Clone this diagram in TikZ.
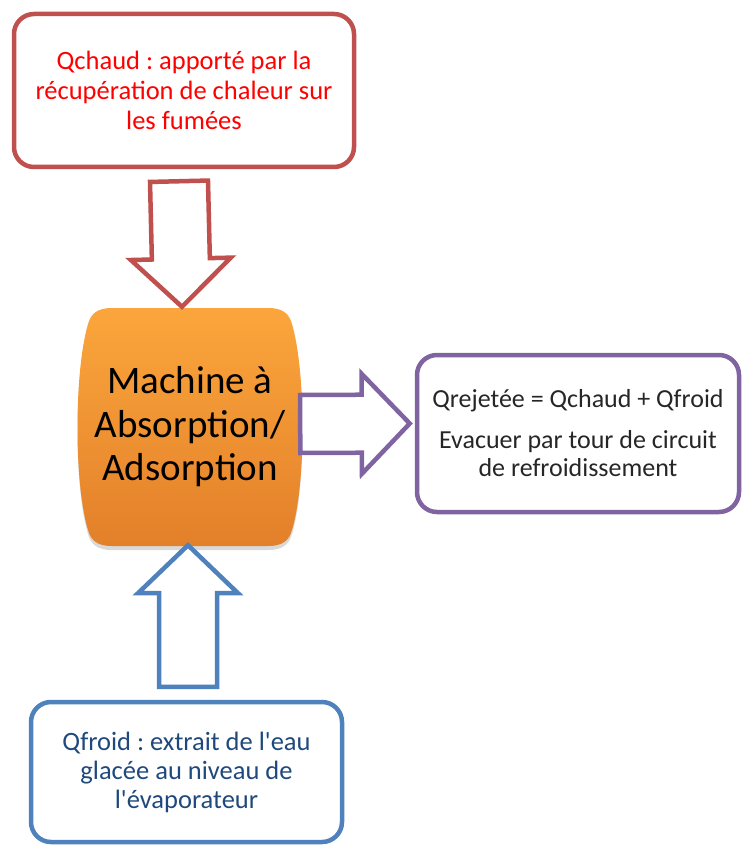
\documentclass[tikz,border=0pt]{standalone}
\usepackage{fontspec}
\setmainfont{Carlito}
\frenchspacing
\usetikzlibrary{calc,shadows}

\definecolor{rougebord}{HTML}{C0504D}
\definecolor{violetbord}{HTML}{8064A2}
\definecolor{bleubord}{HTML}{4F81BD}
\definecolor{bleutexte}{HTML}{1F497D}
\definecolor{orangehaut}{HTML}{FBA63C}
\definecolor{orangebas}{HTML}{E3802A}

% grosse fleche creuse : style, depart, arrivee
\def\corps{29pt}
\def\aile{50pt}
\def\tete{48pt}
\newcommand{\fleche}[3]{%
  \coordinate (fb) at ($(#3)!\tete!(#2)$);
  \draw[#1] ($(#2)!\corps!90:(#3)$) -- ($(fb)!\corps!90:(#3)$) -- ($(fb)!\aile!90:(#3)$)
    -- (#3) -- ($(fb)!\aile!-90:(#3)$) -- ($(fb)!\corps!-90:(#3)$) -- ($(#2)!\corps!-90:(#3)$) -- cycle;
}

\begin{document}
\begin{tikzpicture}[x=1pt, y=-1pt,
    boite/.style={draw, line width=4.5pt, rounded corners=20pt, align=center},
    fleche rouge/.style={draw=rougebord, line width=4.5pt, fill=white},
    fleche violette/.style={draw=violetbord, line width=4.5pt, fill=white},
    fleche bleue/.style={draw=bleubord, line width=4.5pt, fill=white}]
  \useasboundingbox (0,0) rectangle (741,845);

  % les trois boites
  \node[boite, draw=rougebord, text=red, font=\fontsize{26.5}{30}\selectfont,
        minimum width=340pt, minimum height=153pt] (chaud) at (184,90.5)
        {Qchaud : apporté par la\\récupération de chaleur sur\\les fumées};
  \node[boite, draw=violetbord, text=black!85, font=\fontsize{26}{28}\selectfont,
        minimum width=322pt, minimum height=157pt] (rejet) at (578,433.5)
        {Qrejetée = Qchaud + Qfroid\\[13pt]Evacuer par tour de circuit\\de refroidissement};
  \node[boite, draw=bleubord, text=bleutexte, font=\fontsize{26.5}{29}\selectfont,
        minimum width=311pt, minimum height=140pt] (froid) at (186.5,772)
        {Qfroid : extrait de l\textquotesingle eau\\glacée au niveau de\\l\textquotesingle évaporateur};

  % la machine (tonneau orange)
  \path[top color=orangehaut, bottom color=orangebas,
        drop shadow={opacity=0.3, shadow xshift=0pt, shadow yshift=-4pt}]
    (112,308) -- (268,308) .. controls (282,308) and (289,313) .. (292,324)
    .. controls (306,372) and (306,484) .. (292,530)
    .. controls (289,541) and (282,546) .. (268,546) -- (112,546)
    .. controls (98,546) and (91,541) .. (88,530)
    .. controls (74,484) and (74,372) .. (88,324)
    .. controls (91,313) and (98,308) .. (112,308) -- cycle;
  \node[font=\fontsize{39}{43.5}\selectfont, align=center,
        minimum width=224pt, minimum height=238pt] (machine) at (190,427)
        {Machine à\\Absorption/\\Adsorption};

  % fleches
  \coordinate (r0) at ($(chaud.south)+(-5,12)$);
  \coordinate (r1) at ($(machine.north)+(-8,-1)$);
  \fleche{fleche rouge}{r0}{r1}
  \coordinate (v0) at ($(machine.east)+(-2,-3)$);
  \coordinate (v1) at ($(rejet.west)+(-5,-10)$);
  \fleche{fleche violette}{v0}{v1}
  \coordinate (b0) at ($(froid.north)+(1.5,-13)$);
  \coordinate (b1) at ($(machine.south)+(-2,-1)$);
  \fleche{fleche bleue}{b0}{b1}
\end{tikzpicture}
\end{document}
